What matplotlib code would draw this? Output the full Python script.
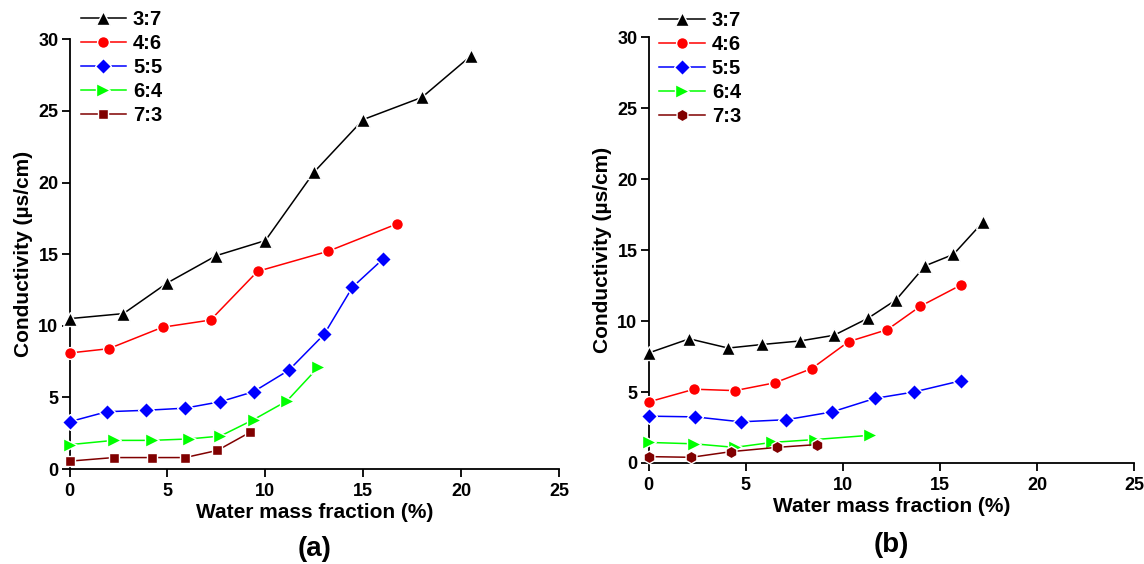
import matplotlib
matplotlib.use("Agg")
import matplotlib.pyplot as plt

plt.rcParams["font.family"] = ["Liberation Sans", "DejaVu Sans"]
plt.rcParams["font.weight"] = "bold"

# ==============================
# DATA
# ==============================
labels = ["3:7", "4:6", "5:5", "6:4", "7:3"]
colors = ["black", "red", "blue", "#00ff00", "#800000"]

# panel (a)
a_x = [
    [0, 2.75, 5.0, 7.5, 10.0, 12.5, 15.0, 18.0, 20.5],
    [0, 2.0, 4.75, 7.2, 9.6, 13.2, 16.7],
    [0, 1.9, 3.9, 5.9, 7.7, 9.4, 11.2, 13.0, 14.45, 16.0],
    [0, 2.25, 4.2, 6.1, 7.7, 9.4, 11.1, 12.7],
    [0, 2.25, 4.2, 5.9, 7.55, 9.2],
]
a_y = [
    [10.5, 10.85, 13.0, 14.9, 15.95, 20.75, 24.4, 25.95, 28.85],
    [8.1, 8.4, 9.9, 10.4, 13.8, 15.2, 17.1],
    [3.3, 4.0, 4.1, 4.25, 4.7, 5.4, 6.9, 9.4, 12.7, 14.65],
    [1.7, 2.0, 2.0, 2.1, 2.3, 3.45, 4.75, 7.1],
    [0.55, 0.8, 0.8, 0.8, 1.3, 2.55],
]

# panel (b)
b_x = [
    [0, 2.1, 4.1, 5.85, 7.8, 9.55, 11.3, 12.75, 14.25, 15.7, 17.2],
    [0, 2.35, 4.45, 6.5, 8.4, 10.3, 12.3, 14.0, 16.1],
    [0, 2.4, 4.75, 7.1, 9.45, 11.65, 13.65, 16.1],
    [0, 2.35, 4.45, 6.35, 8.55, 11.4],
    [0, 2.2, 4.25, 6.6, 8.7],
]
b_y = [
    [7.75, 8.75, 8.1, 8.35, 8.6, 9.0, 10.2, 11.5, 13.9, 14.7, 16.95],
    [4.3, 5.2, 5.1, 5.65, 6.65, 8.55, 9.4, 11.05, 12.55],
    [3.3, 3.25, 2.9, 3.05, 3.6, 4.55, 5.0, 5.8],
    [1.45, 1.35, 1.1, 1.45, 1.65, 1.95],
    [0.45, 0.4, 0.8, 1.1, 1.3],
]

a_markers = ["^", "o", "D", ">", "s"]
b_markers = ["^", "o", "D", ">", "h"]
msize = {"^": 9.5, "o": 8.5, "D": 8, ">": 9.5, "s": 7.5, "h": 9}

# ==============================
# PLOT
# ==============================
fig = plt.figure(figsize=(11.44, 5.64), dpi=100)
ax_a = fig.add_axes([0.0608, 0.1684, 0.4279, 0.7619])
ax_b = fig.add_axes([0.5669, 0.1791, 0.4244, 0.7548])


def draw(ax, xs, ys, markers, tag, tag_y, leg_y):
    for x, y, m, c, lab in zip(xs, ys, markers, colors, labels):
        ax.plot(x, y, color=c, marker=m, markersize=msize[m], linewidth=1.1,
                markeredgecolor="white", markeredgewidth=1.0,
                markerfacecolor=c, label=lab, clip_on=False, zorder=3)
    ax.set_xlim(0, 25)
    ax.set_ylim(0, 30)
    ax.set_xticks([0, 5, 10, 15, 20, 25])
    ax.set_yticks([0, 5, 10, 15, 20, 25, 30])
    for s in ["top", "right"]:
        ax.spines[s].set_visible(False)
    for s in ["left", "bottom"]:
        ax.spines[s].set_linewidth(1.3)
    ax.tick_params(direction="out", length=6, width=1.3, labelsize=13)
    ax.tick_params(axis="x", pad=4)
    ax.tick_params(axis="y", pad=2)
    for t in ax.get_xticklabels() + ax.get_yticklabels():
        t.set_fontweight("bold")
    ax.set_xlabel("Water mass fraction (%)", fontsize=15, fontweight="bold",
                  labelpad=2)
    ax.set_ylabel("Conductivity (µs/cm)", fontsize=15, fontweight="bold",
                  labelpad=4)
    ax.legend(loc="upper left", bbox_to_anchor=(0.0225, leg_y), frameon=False,
              handlelength=2.25, handletextpad=0.35, labelspacing=0.25,
              borderaxespad=0, borderpad=0,
              prop={"weight": "bold", "size": 14.5})
    ax.text(0.5, tag_y, tag, transform=ax.transAxes, ha="center", va="center",
            fontsize=20, fontweight="bold")


draw(ax_a, a_x, a_y, a_markers, "(a)", -0.185, 1.068)
draw(ax_b, b_x, b_y, b_markers, "(b)", -0.193, 1.061)

plt.savefig("out.png", dpi=100)
